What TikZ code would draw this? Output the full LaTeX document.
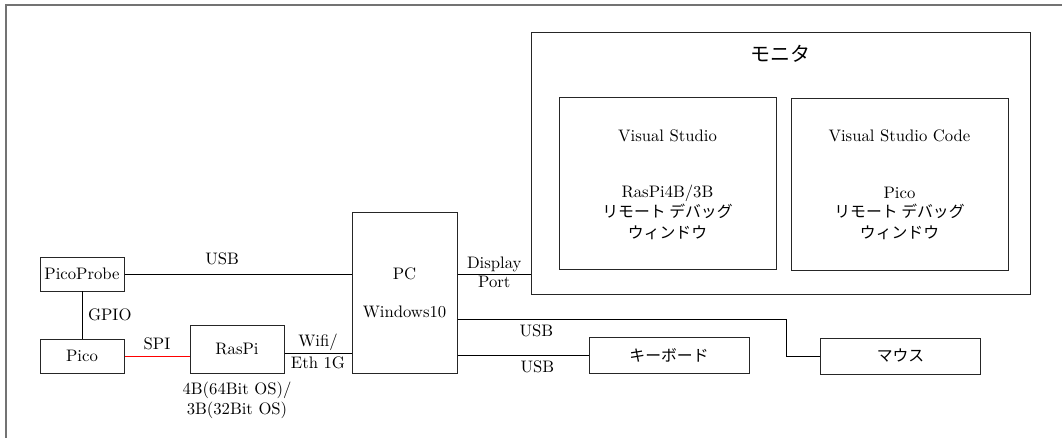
\documentclass[tikz,border=0pt]{standalone}
\usepackage{fontspec}
\newfontfamily\jpfont{Noto Sans CJK JP}
\usepackage{tikz}

\tikzset{
  unit/.style={draw=black!85, minimum width=50.4pt, minimum height=20.4pt, inner sep=0pt},
  jp/.style={font=\fontsize{9.5}{11}\jpfont},
}

\begin{document}
\begin{tikzpicture}[x=0.6pt, y=-0.6pt, line width=0.6pt]
		\useasboundingbox (0,0) rectangle (1062,438);
		% Frame (cut at right and bottom)
		\draw[black!55, line width=0.9pt] (6,438) -- (6,5) -- (1062,5);
		
		% Pico side (left)
		\node[unit] (probe) at (82,274) {PicoProbe};
		\node[unit] (pico) at (82,356) {Pico};
		\node[unit, minimum width=56.4pt, minimum height=28.8pt] (raspi) at (237,349) {RasPi};
		\node[align=center, inner sep=0pt] (rpver) at (237,400) {4B(64Bit OS)/\\3B(32Bit OS)};
		\draw (probe) -- node[right]{GPIO} (pico);
		\draw[red] (pico) -- node[above, text=black]{SPI} (pico -| raspi.west);
		
		% PC
		\node[unit, minimum width=63pt, minimum height=97.2pt, align=center] (pc) at (404.5,293) {PC\\[10.8pt]Windows10};
		\draw (probe) -- node[above=2pt, pos=0.43]{USB} (probe -| pc.west);
		\draw ([yshift=-2.4pt]raspi.east) -- node[above, inner sep=1pt]{Wifi/} node[below, inner sep=2pt]{Eth 1G} ([yshift=-2.4pt]raspi.east -| pc.west);
		
		% Monitor (right)
		\node[unit, minimum width=299.4pt, minimum height=157.2pt] (monitor) at (781,164) {};
		\node[font=\large\jpfont] (montitle) at (780,54) {モニタ};
		\node[unit, minimum width=130.2pt, minimum height=103.2pt] (vs) at (667.5,184) {};
		\node (vsname) at (667.5,136) {Visual Studio};
		\node (vstarget) at (667.5,193) {RasPi4B/3B};
		\node[jp] (vsdebug) at (667.5,211) {リモート デバッグ};
		\node[jp] (vswin) at (667.5,233) {ウィンドウ};
		\node[unit, minimum width=130.2pt, minimum height=103.2pt] (vsc) at (899.5,184.5) {};
		\node (vscname) at (899.5,136) {Visual Studio Code};
		\node (vsctarget) at (899.5,193) {Pico};
		\node[jp] (vscdebug) at (899.5,211) {リモート デバッグ};
		\node[jp] (vscwin) at (899.5,233) {ウィンドウ};
		\draw (probe -| pc.east) -- node[above, inner sep=1pt]{Display} node[below, inner sep=1pt]{Port} (probe -| monitor.west);
		
		% Keyboard and mouse
		\node[unit, jp, minimum width=96pt, minimum height=21.6pt] (kbd) at (669,355) {キーボード};
		\node[unit, jp, minimum width=96pt, minimum height=21.6pt] (mouse) at (900.5,356) {マウス};
		\draw (kbd.west) -- node[below, pos=0.39]{USB} (kbd.west -| pc.east);
		\draw ([yshift=-15.6pt]pc.east) -- node[below, pos=0.24]{USB} ++(328.5,0) |- (mouse.west);
	\end{tikzpicture}
\end{document}
